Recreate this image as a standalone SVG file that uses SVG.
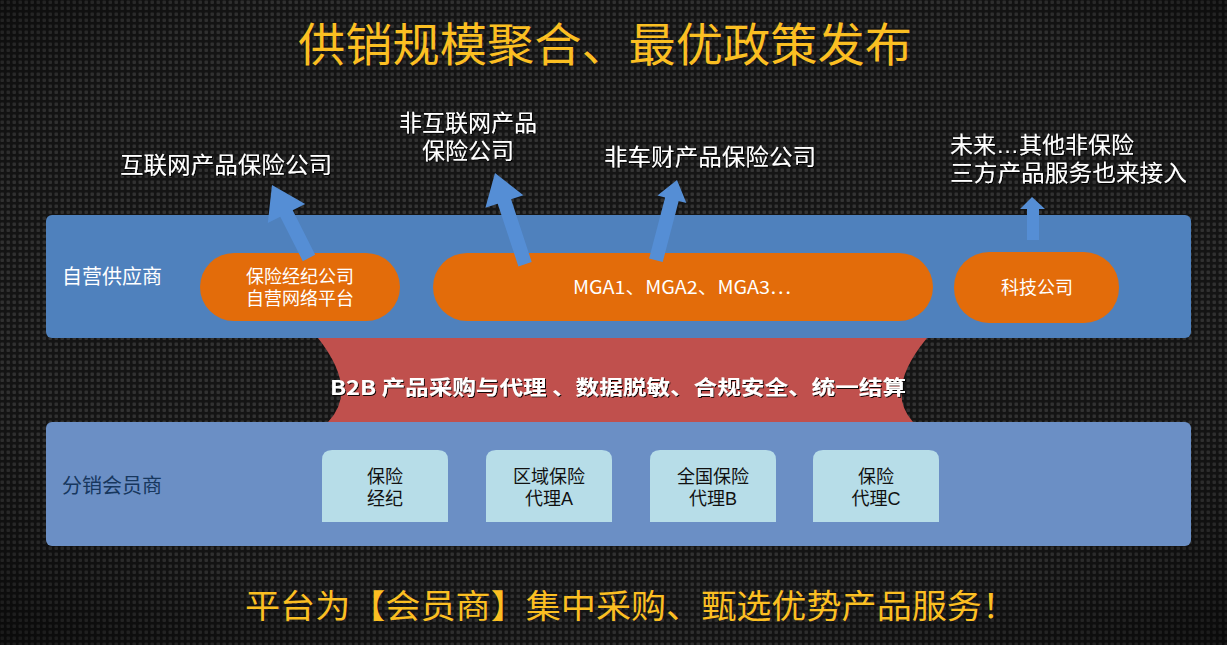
<svg xmlns="http://www.w3.org/2000/svg" width="1227" height="645" viewBox="0 0 1227 645">
<defs>
<pattern id="carbon" width="6" height="6" patternUnits="userSpaceOnUse">
<rect width="6" height="6" fill="#161616"/>
<rect x="0.5" y="0.5" width="3.5" height="3.5" rx="1" fill="#363636"/>
</pattern>
<radialGradient id="vig" cx="0.5" cy="0.45" r="0.75">
<stop offset="0" stop-color="#000" stop-opacity="0"/>
<stop offset="0.7" stop-color="#000" stop-opacity="0.12"/>
<stop offset="1" stop-color="#000" stop-opacity="0.55"/>
</radialGradient>
<filter id="sh" x="-5%" y="-20%" width="110%" height="140%">
<feDropShadow dx="1" dy="1" stdDeviation="0.6" flood-color="#000" flood-opacity="0.9"/>
</filter>
<style>
text{font-family:"Noto Sans CJK SC","Liberation Sans",sans-serif}
text.ml{font-family:"Liberation Sans","Noto Sans CJK SC",sans-serif}
.gold{fill:#FBBF22}
.lbl{fill:#ffffff;font-size:23px}
.pill{fill:#E36C0A}
.pt{fill:#ffffff;font-size:18px;text-anchor:middle}
.arrow{fill:#558ED5}
.box{fill:#B7DDE8}
.bt{fill:#111111;font-size:18px;text-anchor:middle}
</style>
</defs>

<rect width="1227" height="645" fill="url(#carbon)"/>
<rect width="1227" height="645" fill="url(#vig)"/>

<text x="605" y="61" class="gold" font-size="46" text-anchor="middle" textLength="614" lengthAdjust="spacingAndGlyphs">供销规模聚合、最优政策发布</text>

<g id="labels" filter="url(#sh)">
<text x="120" y="173" class="lbl" textLength="212" lengthAdjust="spacingAndGlyphs">互联网产品保险公司</text>
<text class="lbl ml" text-anchor="middle"><tspan x="468" y="131">非互联网产品</tspan><tspan x="468" y="159">保险公司</tspan></text>
<text x="604" y="165" class="lbl" textLength="212" lengthAdjust="spacingAndGlyphs">非车财产品保险公司</text>
<text class="lbl ml"><tspan x="950" y="153">未来…其他非保险</tspan><tspan x="950" y="181" textLength="237" lengthAdjust="spacingAndGlyphs">三方产品服务也来接入</tspan></text>
</g>

<g id="b2b-layer">
<path d="M318 330 L927 330 L927 338 Q884 390 913 422 L913 430 L328 430 L328 422 Q359 390 318 338 Z" fill="#C0504D"/>
</g>

<g id="supplier-band">
<rect x="46" y="215" width="1145" height="123" rx="6" fill="#4F81BD"/>
<text x="62" y="284" fill="#ffffff" font-size="20">自营供应商</text>
</g>

<g id="bottom-band">
<rect x="46" y="422" width="1145" height="124" rx="6" fill="#6B8FC5"/>
<text x="62" y="493" fill="#17375E" font-size="20">分销会员商</text>
</g>

<text id="b2b-text" x="618" y="395" fill="#ffffff" font-size="20" font-weight="bold" text-anchor="middle" textLength="576" lengthAdjust="spacingAndGlyphs" filter="url(#sh)">B2B 产品采购与代理 、数据脱敏、合规安全、统一结算</text>

<g id="node-broker-platform">
<rect x="200" y="253" width="200" height="68" rx="34" class="pill"/>
<text class="pt ml"><tspan x="300" y="283">保险经纪公司</tspan><tspan x="300" y="305">自营网络平台</tspan></text>
</g>
<g id="node-mga">
<rect x="433" y="253" width="500" height="68" rx="34" class="pill"/>
<text x="682" y="294" class="pt" font-size="20" textLength="218" lengthAdjust="spacingAndGlyphs">MGA1、MGA2、MGA3…</text>
</g>
<g id="node-tech">
<rect x="954" y="252" width="165" height="71" rx="35" class="pill"/>
<text x="1037" y="294" class="pt">科技公司</text>
</g>

<g id="connectors">
<polygon class="arrow" points="315.2,254.8 292.7,210.3 305.2,204 272,185 267.8,223 280.3,216.7 302.8,261.2"/>
<polygon class="arrow" points="531.7,262 511.1,199.3 523.4,195.2 495,173 485.4,207.8 497.7,203.7 518.4,266.4"/>
<polygon class="arrow" points="662.7,262.1 678.7,201.1 686.4,203.1 677,180 657.4,195.5 665.1,197.5 649.1,258.5"/>
<polygon class="arrow" points="1039,240 1039,209 1045,209 1032,197 1020,209 1027,209 1027,240"/>
</g>

<g id="node-broker">
<path d="M322 460 Q322 450 332 450 L438 450 Q448 450 448 460 L448 522 L322 522 Z" class="box"/>
<text class="bt ml"><tspan x="385" y="483">保险</tspan><tspan x="385" y="505">经纪</tspan></text>
</g>
<g id="node-agent-a">
<path d="M486 460 Q486 450 496 450 L602 450 Q612 450 612 460 L612 522 L486 522 Z" class="box"/>
<text class="bt ml"><tspan x="549" y="483">区域保险</tspan><tspan x="549" y="505">代理A</tspan></text>
</g>
<g id="node-agent-b">
<path d="M650 460 Q650 450 660 450 L766 450 Q776 450 776 460 L776 522 L650 522 Z" class="box"/>
<text class="bt ml"><tspan x="713" y="483">全国保险</tspan><tspan x="713" y="505">代理B</tspan></text>
</g>
<g id="node-agent-c">
<path d="M813 460 Q813 450 823 450 L929 450 Q939 450 939 460 L939 522 L813 522 Z" class="box"/>
<text class="bt ml"><tspan x="876" y="483">保险</tspan><tspan x="876" y="505">代理C</tspan></text>
</g>

<text x="245" y="618" class="gold" font-size="33" textLength="772" lengthAdjust="spacingAndGlyphs">平台为【会员商】集中采购、甄选优势产品服务！</text>
</svg>
